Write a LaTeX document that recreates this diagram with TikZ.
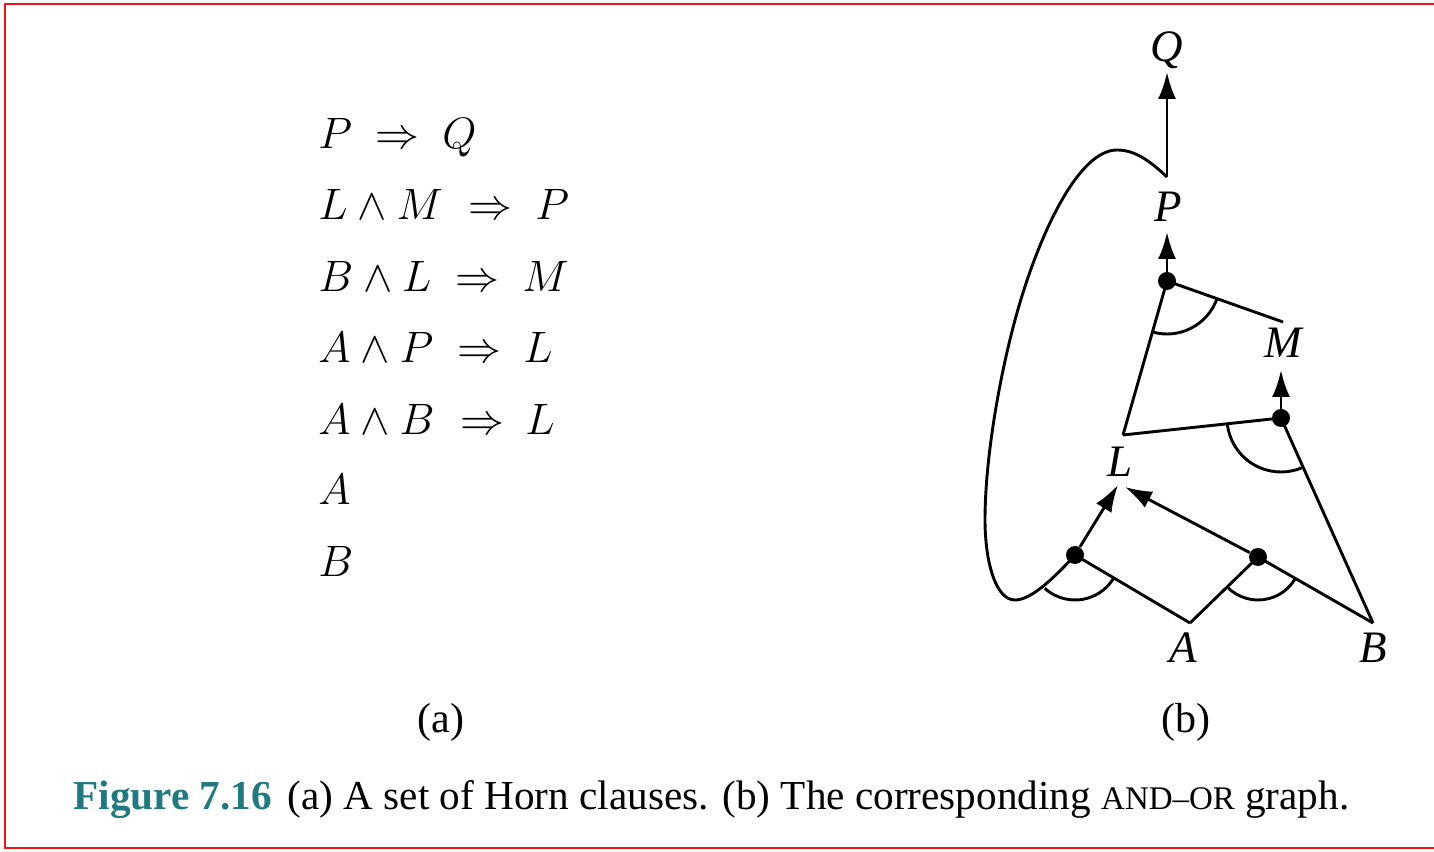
\documentclass[tikz,border=0pt]{standalone}
\usepackage{fontspec}
\setmainfont{Liberation Serif}
\usetikzlibrary{arrows.meta}
\definecolor{figteal}{RGB}{30,122,128}
\definecolor{framered}{RGB}{240,20,20}
\begin{document}
\begin{tikzpicture}[x=0.5pt,y=0.5pt,
  edge/.style={line width=1.45pt, line join=miter},
  arr/.style={edge, -{Latex[length=13.5pt,width=9pt]}},
  dot/.style={circle, fill=black, inner sep=0pt, minimum size=9pt},
  lbl/.style={inner sep=0pt, anchor=base, font=\fontsize{22.5}{26}\selectfont\itshape},
  clause/.style={inner sep=0pt, anchor=base west, font=\fontsize{20.74}{26}\selectfont, scale=1.06, transform shape},
  sub/.style={inner sep=0pt, anchor=base, font=\fontsize{21}{25}\selectfont},
  captext/.style={inner sep=0pt, anchor=base west, font=\fontsize{20.6}{24}\selectfont},
]
\useasboundingbox (0,0) rectangle (1434,851);
\draw[framered, line width=1.4pt] (5,3) rectangle (1440,847);

% (a) clauses
\node[clause] (r1a) at (318,702) {$P$};
\node[clause] (r1b) at (375,702) {$\Rightarrow$};
\node[clause] (r1c) at (442,702) {$Q$};
\node[clause] (r2a) at (318,631) {$L\wedge M$};
\node[clause] (r2b) at (468,631) {$\Rightarrow$};
\node[clause] (r2c) at (535,631) {$P$};
\node[clause] (r3a) at (318,559) {$B\wedge L$};
\node[clause] (r3b) at (455,559) {$\Rightarrow$};
\node[clause] (r3c) at (522,559) {$M$};
\node[clause] (r4a) at (318,488) {$A\wedge P$};
\node[clause] (r4b) at (457,488) {$\Rightarrow$};
\node[clause] (r4c) at (523,488) {$L$};
\node[clause] (r5a) at (318,416) {$A\wedge B$};
\node[clause] (r5b) at (460,416) {$\Rightarrow$};
\node[clause] (r5c) at (525,416) {$L$};
\node[clause] (r6) at (318,346) {$A$};
\node[clause] (r7) at (318,274) {$B$};

% (b) graph labels
\node[lbl] (Q) at (1167,789) {Q};
\node[lbl] (P) at (1168,629) {P};
\node[lbl] (M) at (1283,493) {M};
\node[lbl] (L) at (1120,374) {L};
\node[lbl] (A) at (1183,188) {A};
\node[lbl] (B) at (1373,188) {B};

\coordinate (Ptop) at (1167,674);
\coordinate (Pbot) at (1167,619);
\coordinate (Qbot) at (1167,779);
\coordinate (Mtop) at (1283,529);
\coordinate (Mbot) at (1281,481);
\coordinate (Ltop) at (1123,416);
\coordinate (Lbot1) at (1118,366);
\coordinate (Lbot2) at (1125,364);
\coordinate (Apt) at (1190,228);
\coordinate (Bpt) at (1373,228);

\node[dot] (Pd) at (1167,570) {};
\node[dot] (Md) at (1281,433) {};
\node[dot] (L1) at (1075,296) {};
\node[dot] (L2) at (1258,294) {};

% edges
\draw[arr] (Ptop) -- (Qbot);
\draw[edge] (Ptop) .. controls (1150,690) and (1135,701) .. (1117,701)
  .. controls (1077,701) and (1036.6,611) .. (1015,531)
  .. controls (998.8,471) and (985,391) .. (985,331)
  .. controls (985,291) and (995,251) .. (1015,251)
  .. controls (1030,251) and (1051,269.6) .. (L1.center);
\draw[arr] (Pd) -- (Pbot);
\draw[edge] (Pd.center) -- (Mtop);
\draw[edge] (Pd.center) -- (Ltop);
\draw[arr] (Md) -- (Mbot);
\draw[edge] (Md.center) -- (Ltop);
\draw[edge] (Md.center) -- (Bpt);
\draw[arr] (L1) -- (Lbot1);
\draw[edge] (L1.center) -- (Apt);
\draw[arr] (L2) -- (Lbot2);
\draw[edge] (L2.center) -- (Apt);
\draw[edge] (L2.center) -- (Bpt);

% AND arcs
\draw[edge] ([shift={(254:53)}]Pd.center) arc[start angle=254, end angle=340.5, radius=53];
\draw[edge] ([shift={(186.1:54)}]Md.center) arc[start angle=186.1, end angle=294.2, radius=54];
\draw[edge] ([shift={(227.7:45)}]L1.center) arc[start angle=227.7, end angle=329.4, radius=45];
\draw[edge] ([shift={(224.1:43)}]L2.center) arc[start angle=224.1, end angle=330.1, radius=43];

% sub-captions
\node[sub] (suba) at (441,119) {(a)};
\node[sub] (subb) at (1186,119) {(b)};

% caption
\node[captext] (caption) at (73,41) {{\color{figteal}\bfseries Figure 7.16}\hspace{8pt}(a) A set of Horn clauses. (b) The corresponding {\fontsize{16.5}{19}\selectfont AND\textendash OR} graph.};
\end{tikzpicture}
\end{document}
